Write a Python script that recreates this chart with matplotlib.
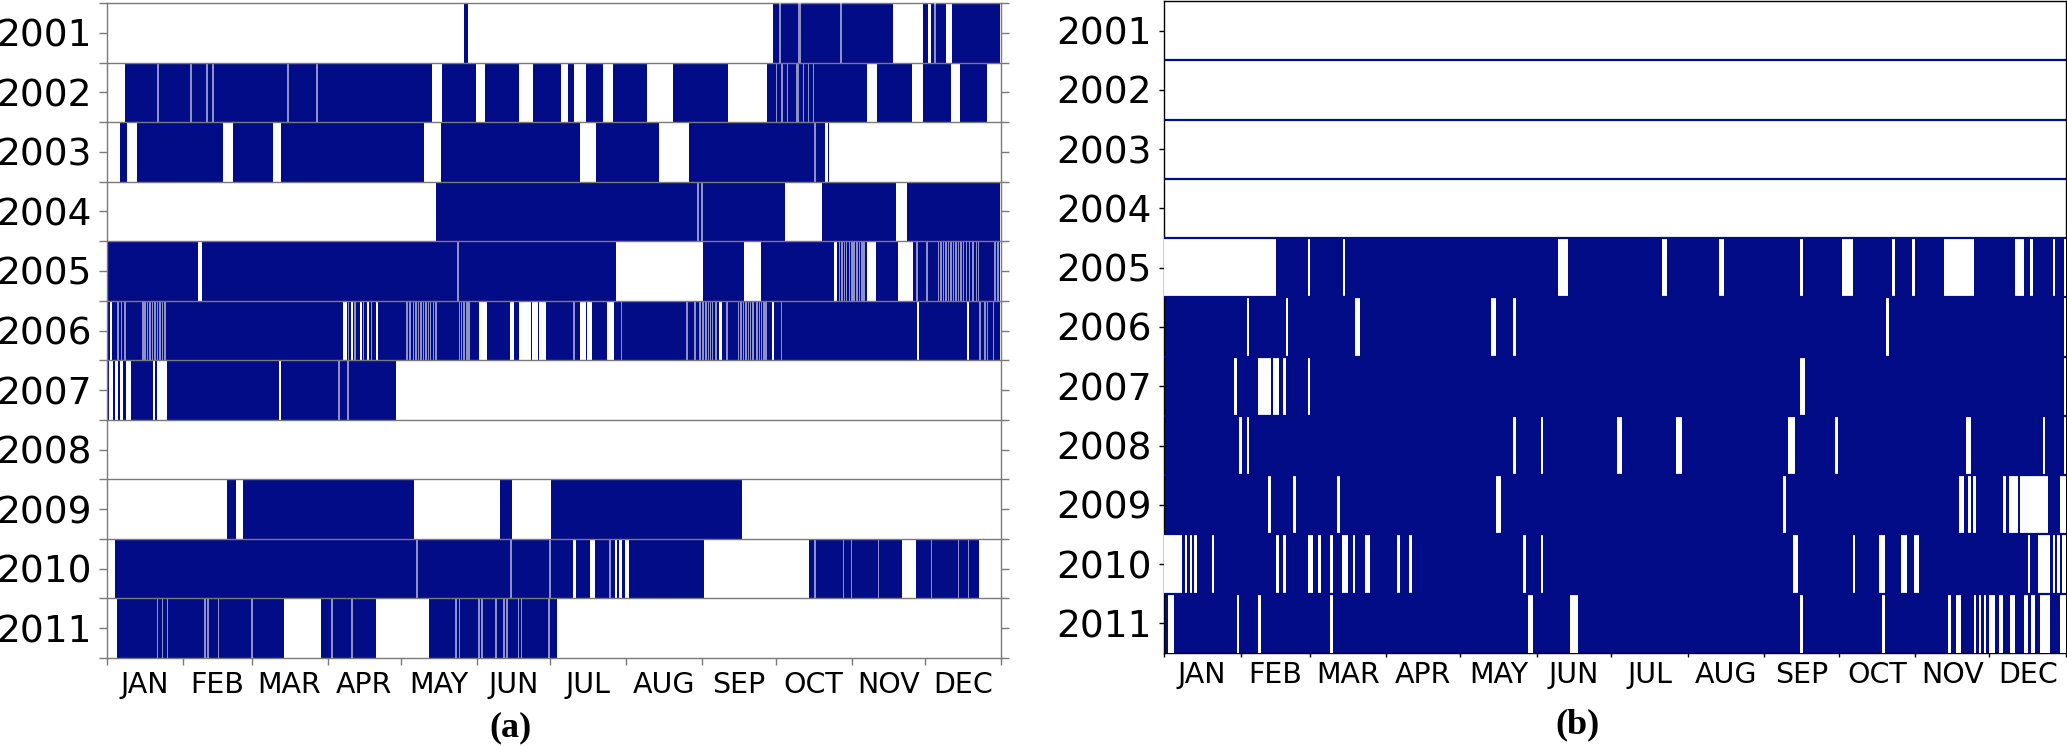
import matplotlib
matplotlib.use("Agg")
import matplotlib.pyplot as plt

NAVY = "#030c87"

YEARS = [2001, 2002, 2003, 2004, 2005, 2006, 2007, 2008, 2009, 2010, 2011]
MONTHS = ["JAN", "FEB", "MAR", "APR", "MAY", "JUN", "JUL", "AUG", "SEP", "OCT", "NOV", "DEC"]
MONTH_STARTS = [0, 31, 59, 90, 120, 151, 181, 212, 243, 273, 304, 334, 365]

# ---------------- Panel (a): periods with data (day-of-year start, end) ----------------
A_2001_ON = [(145.8, 147.4), (271.9, 320.9), (333.2, 335.3), (336.4, 342.6), (345.0, 364.5)]
A_2002_ON = [(7.3, 132.7), (136.8, 150.7), (154.3, 168.2), (174.0, 185.4), (188.2, 190.7),
             (195.6, 202.5), (206.6, 220.5), (231.1, 253.6), (269.5, 310.3), (314.4, 328.7),
             (333.2, 344.6), (348.3, 359.3)]
A_2003_ON = [(5.3, 8.2), (12.2, 47.4), (51.4, 67.8), (71.0, 129.4), (136.4, 193.1),
             (199.7, 225.4), (237.6, 293.2), (294.2, 294.7)]
A_2004_ON = [(134.3, 276.8), (291.9, 322.1), (326.6, 364.6)]
A_2005_ON = [(0.0, 37.0), (38.6, 207.7), (243.5, 260.1), (267.0, 296.6), (298.0, 310.2),
             (314.0, 323.0), (329.0, 364.6)]
A_2006_ON = [(0.0, 1.2), (2.1, 96.5), (97.8, 99.5), (100.5, 103.3), (104.0, 106.0),
             (107.1, 109.8), (110.8, 152.0), (155.3, 164.5), (166.2, 168.3), (173.0, 173.4),
             (176.0, 176.4), (179.1, 193.1), (195.6, 196.0), (197.9, 204.3), (207.0, 249.7),
             (251.1, 271.4), (272.1, 330.6), (331.3, 351.0), (352.1, 364.6)]
A_2007_ON = [(0.0, 0.9), (2.5, 3.3), (4.6, 5.3), (6.7, 7.8), (9.7, 18.6), (19.5, 20.4),
             (24.4, 70.4), (70.9, 118.0)]
A_2008_ON = []
A_2009_ON = [(49.0, 52.7), (55.5, 125.3), (160.5, 165.4), (181.3, 259.3)]
A_2010_ON = [(3.3, 190.3), (191.5, 197.2), (199.3, 207.4), (208.1, 209.2), (210.1, 211.5),
             (213.3, 243.8), (286.6, 324.6), (330.3, 356.0)]
A_2011_ON = [(4.2, 72.3), (87.4, 109.8), (131.5, 183.7)]

# short outages inside the data periods of panel (a) (day-of-year)
A_2001_SHORT = [274.8, 282.6, 283.2, 299.7, 338.1]
A_2002_SHORT = [20.8, 34.3, 40.8, 43.3, 73.9, 85.7, 273.4, 275.5, 277.8, 281.6, 282.3,
                284.3, 286.4, 288.4]
A_2003_SHORT = [289.0]
A_2004_SHORT = [241.3, 242.9]
A_2005_SHORT = [143.3, 299.0, 300.0, 301.0, 302.0, 303.1, 304.1, 305.0, 306.1, 307.2, 308.2,
                309.1, 330.6, 334.7, 339.4, 340.4, 341.5, 342.6, 343.5, 344.5, 345.6, 346.7,
                347.6, 348.6, 349.7, 350.8, 352.1, 353.5, 354.9, 355.8, 362.5, 363.8]
A_2006_SHORT = [4.5, 5.9, 7.3, 14.6, 15.5, 16.5, 17.6, 18.6, 19.6, 20.5, 21.6, 22.7, 23.7,
                98.5, 101.3, 104.6, 108.0, 122.4, 123.7, 125.1, 126.1, 127.1, 128.1, 129.2,
                130.3, 131.2, 132.1, 133.2, 134.3, 143.8, 144.8, 145.8, 146.9, 147.8, 190.6,
                210.1, 236.7, 240.1, 242.1, 243.3, 244.6, 245.5, 246.4, 247.2, 248.7, 253.2,
                257.8, 258.8, 259.8, 260.8, 261.8, 262.8, 263.8, 265.3, 266.3, 267.3, 268.3,
                269.1, 275.4, 356.5, 358.5, 359.5, 361.9]
A_2007_SHORT = [94.7, 98.4]
A_2008_SHORT = []
A_2009_SHORT = []
A_2010_SHORT = [126.6, 165.0, 180.9, 205.4, 289.1, 300.6, 304.0, 314.9, 336.7, 347.6, 351.7]
A_2011_SHORT = [20.6, 22.6, 24.6, 40.0, 41.3, 45.4, 59.2, 91.9, 100.0, 142.5, 144.0, 151.9,
                153.1, 158.8, 162.0, 163.3, 168.0, 169.2, 180.5]

# ---------------- Panel (b): years with data, and gaps (start, end) ----------------
B_YEARS_WITH_DATA = [2005, 2006, 2007, 2008, 2009, 2010, 2011]
B_2005_GAPS = [(0.0, 45.5), (58.4, 59.3), (72.3, 73.3), (159.5, 163.4), (201.5, 203.6),
               (224.5, 226.5), (257.5, 258.5), (274.4, 278.7), (294.6, 295.7), (302.7, 303.8),
               (315.5, 327.6), (344.5, 347.9), (350.6, 351.7), (359.6, 360.7), (364.4, 365.0)]
B_2006_GAPS = [(33.5, 34.4), (49.4, 50.3), (77.3, 79.3), (132.2, 134.4), (141.4, 142.5),
               (292.3, 293.4), (364.4, 365.0)]
B_2007_GAPS = [(28.3, 29.4), (38.2, 43.3), (44.2, 46.4), (48.3, 49.4), (58.4, 59.3),
               (257.5, 259.5), (364.4, 365.0)]
B_2008_GAPS = [(30.4, 31.4), (33.5, 34.4), (141.4, 142.5), (152.6, 153.5), (183.3, 185.5),
               (207.3, 209.6), (252.5, 255.5), (271.7, 272.6), (324.6, 326.6), (355.7, 356.7),
               (364.4, 365.0)]
B_2009_GAPS = [(42.2, 43.2), (52.3, 53.3), (70.2, 71.2), (134.4, 136.5), (250.5, 251.6),
               (321.6, 323.6), (325.4, 326.7), (327.4, 328.6), (339.5, 340.6), (341.8, 345.6),
               (346.5, 357.6), (362.5, 365.0)]
B_2010_GAPS = [(0.0, 7.4), (8.5, 9.3), (10.4, 11.2), (12.3, 13.5), (19.3, 20.4), (45.3, 46.4),
               (48.3, 49.4), (58.4, 60.4), (62.3, 63.4), (67.2, 68.3), (72.2, 74.3), (76.4, 77.3),
               (81.3, 83.4), (94.4, 95.5), (99.3, 100.4), (145.4, 146.5), (152.6, 153.5),
               (254.4, 256.4), (278.7, 279.7), (289.5, 291.6), (298.4, 300.7), (303.5, 305.6),
               (349.5, 350.6), (353.6, 358.7), (359.6, 360.6), (361.4, 362.4), (363.4, 365.0)]
B_2011_GAPS = [(1.5, 4.2), (29.4, 30.4), (38.2, 39.3), (67.2, 68.3), (147.5, 149.5),
               (164.4, 167.4), (257.5, 258.6), (290.6, 291.6), (317.3, 318.5), (320.7, 322.7),
               (327.6, 328.7), (329.7, 330.6), (331.7, 332.6), (333.7, 336.4), (337.8, 339.5),
               (342.5, 344.5), (347.9, 349.7), (350.9, 352.6), (354.6, 358.7), (362.7, 365.0)]

A_ON = [A_2001_ON, A_2002_ON, A_2003_ON, A_2004_ON, A_2005_ON, A_2006_ON, A_2007_ON,
        A_2008_ON, A_2009_ON, A_2010_ON, A_2011_ON]
A_SHORT = [A_2001_SHORT, A_2002_SHORT, A_2003_SHORT, A_2004_SHORT, A_2005_SHORT, A_2006_SHORT,
           A_2007_SHORT, A_2008_SHORT, A_2009_SHORT, A_2010_SHORT, A_2011_SHORT]
B_GAPS = {2005: B_2005_GAPS, 2006: B_2006_GAPS, 2007: B_2007_GAPS, 2008: B_2008_GAPS,
          2009: B_2009_GAPS, 2010: B_2010_GAPS, 2011: B_2011_GAPS}

YEAR_FS = 27
MONTH_FS = 20.5
GRAY = "#7a7a7a"

fig = plt.figure(figsize=(20.67, 7.47), dpi=100)
axA = fig.add_axes([0.0518, 0.1191, 0.4325, 0.8769])
axB = fig.add_axes([0.5631, 0.1258, 0.4364, 0.8729])

mids = [(MONTH_STARTS[i] + MONTH_STARTS[i + 1]) / 2 for i in range(12)]
rows = list(range(len(YEARS)))


def setup_axes(ax, spine_color, ytick_len, xtick_len, xpad, minor_y, right_ticks):
    ax.set_xlim(0, 365)
    ax.set_ylim(len(YEARS) - 0.5, -0.5)
    ax.set_yticks(rows)
    ax.set_yticklabels([str(y) for y in YEARS], fontsize=YEAR_FS)
    if minor_y:
        ax.set_yticks([r + 0.5 for r in range(-1, len(YEARS))], minor=True)
    ax.set_xticks(MONTH_STARTS)
    ax.set_xticklabels([""] * len(MONTH_STARTS))
    ax.set_xticks(mids, minor=True)
    ax.set_xticklabels(MONTHS, minor=True, fontsize=MONTH_FS)
    ax.tick_params(axis="x", which="major", length=xtick_len, color=spine_color, width=1)
    ax.tick_params(axis="x", which="minor", length=0, pad=xpad)
    ax.tick_params(axis="y", which="both", length=ytick_len, color=spine_color, width=1,
                   pad=5, right=right_ticks)
    for s in ax.spines.values():
        s.set_color(spine_color)
        s.set_linewidth(1.0)


# ---- panel (a)
for i, (segs, shorts) in enumerate(zip(A_ON, A_SHORT)):
    if segs:
        axA.broken_barh([(s, e - s) for s, e in segs], (i - 0.5, 1.0),
                        facecolors=NAVY, edgecolor="none", zorder=2)
    if shorts:
        axA.broken_barh([(c - 0.3, 0.6) for c in shorts], (i - 0.5, 1.0),
                        facecolors="white", alpha=0.55, edgecolor="none", zorder=3)
for r in range(len(YEARS) - 1):
    axA.axhline(r + 0.5, color=GRAY, lw=1.0, zorder=4)
setup_axes(axA, GRAY, 6, 5.3, 9, True, True)

# ---- panel (b)
for i, y in enumerate(YEARS):
    if y in B_YEARS_WITH_DATA:
        axB.broken_barh([(0, 365)], (i - 0.5, 1.0), facecolors=NAVY, edgecolor="none", zorder=2)
        axB.broken_barh([(s, e - s) for s, e in B_GAPS[y]], (i - 0.5, 1.0),
                        facecolors="white", edgecolor="none", zorder=3)
for r in range(len(YEARS) - 1):
    axB.axhline(r + 0.5, color=NAVY, lw=1.6, zorder=4)
setup_axes(axB, "black", 3.5, 3, 6, False, False)

fig.text(0.2472, 0.0254, "(a)", ha="center", va="center", fontsize=26,
         fontweight="bold", family="Liberation Serif")
fig.text(0.763, 0.030, "(b)", ha="center", va="center", fontsize=26,
         fontweight="bold", family="Liberation Serif")

fig.savefig("out.png", dpi=100)
